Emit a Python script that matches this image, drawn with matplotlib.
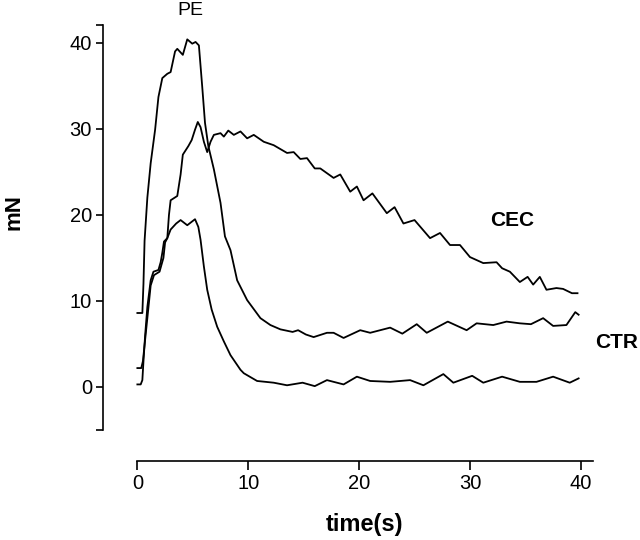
import matplotlib
matplotlib.use("Agg")
import matplotlib.pyplot as plt

plt.rcParams['font.family'] = ['Liberation Sans', 'DejaVu Sans']

# trace that peaks at ~40 mN and relaxes to ~7 mN
pe_t = [0, 0.45, 0.55, 0.65, 0.9, 1.2, 1.6, 1.9, 2.25, 2.7, 3.0, 3.4, 3.6, 4.1,
        4.5, 4.95, 5.25, 5.55, 5.85, 6.1, 6.4, 6.9, 7.5, 7.9, 8.4, 9.0, 9.9,
        11.1, 12.0, 12.9, 14.0, 14.5, 15.2, 15.9, 17.1, 17.7, 18.6, 20.1, 21.0,
        22.8, 23.9, 25.2, 26.1, 28.0, 29.7, 30.6, 32.1, 33.3, 34.5, 35.5, 36.6,
        37.5, 38.7, 39.5, 39.8]
pe_f = [8.6, 8.6, 12.0, 17.0, 22.0, 26.0, 29.9, 33.7, 35.9, 36.4, 36.6, 39.0,
        39.3, 38.6, 40.4, 39.9, 40.1, 39.7, 34.9, 30.7, 28.0, 25.3, 21.4, 17.5,
        15.9, 12.4, 10.1, 8.0, 7.2, 6.7, 6.4, 6.6, 6.1, 5.8, 6.3, 6.3, 5.7, 6.6,
        6.3, 6.9, 6.2, 7.3, 6.3, 7.6, 6.6, 7.4, 7.2, 7.6, 7.4, 7.3, 8.0, 7.1,
        7.2, 8.7, 8.4]

# CEC trace, sustained plateau then slow decay
cec_t = [0, 0.35, 0.5, 0.7, 0.9, 1.2, 1.5, 2.0, 2.35, 2.5, 2.7, 2.85, 3.0, 3.6,
         3.9, 4.1, 4.6, 4.9, 5.2, 5.45, 5.7, 6.0, 6.3, 6.6, 6.9, 7.5, 7.8, 8.2,
         8.7, 9.3, 9.9, 10.5, 11.4, 12.3, 13.5, 14.1, 14.7, 15.3, 16.0, 16.5,
         17.7, 18.3, 19.2, 19.8, 20.4, 21.2, 22.5, 23.2, 24.0, 25.0, 26.4, 27.3,
         28.2, 29.1, 30.0, 31.2, 32.4, 32.9, 33.6, 34.5, 35.2, 35.7, 36.3, 36.9,
         37.8, 38.4, 39.2, 39.7]
cec_f = [2.2, 2.2, 3.0, 5.5, 8.0, 11.8, 13.0, 13.4, 15.0, 16.8, 17.3, 20.0,
         21.7, 22.2, 24.7, 27.0, 28.0, 28.7, 29.9, 30.8, 30.2, 28.5, 27.3, 28.5,
         29.3, 29.5, 29.1, 29.8, 29.3, 29.7, 28.9, 29.3, 28.5, 28.1, 27.2, 27.3,
         26.5, 26.6, 25.4, 25.4, 24.3, 24.7, 22.7, 23.3, 21.7, 22.5, 20.2, 20.9,
         19.0, 19.4, 17.3, 17.9, 16.5, 16.5, 15.1, 14.4, 14.5, 13.8, 13.4, 12.2,
         12.8, 11.9, 12.8, 11.3, 11.5, 11.4, 10.9, 10.9]

# CTR trace, small transient back to ~0
ctr_t = [0, 0.3, 0.45, 0.55, 0.7, 0.9, 1.2, 1.45, 1.9, 2.1, 2.25, 2.4, 2.7, 3.0,
         3.5, 3.9, 4.5, 4.9, 5.2, 5.5, 5.7, 6.0, 6.3, 6.7, 7.2, 7.8, 8.4, 9.3,
         9.6, 10.8, 12.3, 13.5, 14.9, 16.0, 17.1, 17.7, 18.6, 19.8, 21.0, 22.8,
         24.6, 25.8, 27.6, 28.5, 30.2, 31.2, 32.9, 34.5, 36.0, 37.5, 39.0, 39.8]
ctr_f = [0.3, 0.3, 0.8, 3.0, 6.0, 9.3, 12.4, 13.4, 13.6, 14.5, 15.6, 16.9,
         17.3, 18.3, 19.0, 19.4, 18.8, 19.2, 19.5, 18.6, 17.1, 14.0, 11.3, 9.0,
         7.0, 5.3, 3.7, 2.0, 1.6, 0.7, 0.5, 0.2, 0.5, 0.1, 0.8, 0.6, 0.3, 1.2,
         0.7, 0.6, 0.8, 0.2, 1.5, 0.5, 1.3, 0.5, 1.2, 0.6, 0.6, 1.2, 0.5, 1.0]

x_ticks = [0, 10, 20, 30, 40]
y_ticks = [-5, 0, 10, 20, 30, 40, 42.1]
y_labels = ['', '0', '10', '20', '30', '40', '']

fig = plt.figure(figsize=(6.4, 5.4), dpi=100)
ax = fig.add_axes([103 / 640, 79 / 540, 500 / 640, 444 / 540])

for t, f in [(pe_t, pe_f), (cec_t, cec_f), (ctr_t, ctr_f)]:
    ax.plot(t, f, color='black', lw=1.3)

ax.set_xlim(-3.1, 42)
ax.set_ylim(-8.6, 43)
ax.spines['top'].set_visible(False)
ax.spines['right'].set_visible(False)
ax.spines['left'].set_bounds(-5, 42.1)
ax.spines['bottom'].set_bounds(0, 41.1)
for s in ['left', 'bottom']:
    ax.spines[s].set_linewidth(1.2)

ax.set_xticks(x_ticks)
ax.set_yticks(y_ticks)
ax.set_yticklabels(y_labels)
ax.tick_params(axis='both', labelsize=14.5, width=1.2, color='black')
ax.tick_params(axis='x', length=6.5, pad=3)
ax.tick_params(axis='y', length=5, pad=3)

ax.text(4.8, 43.8, 'PE', fontsize=14, ha='center', va='center', clip_on=False)
ax.text(33.8, 19.3, 'CEC', fontsize=15, fontweight='bold', ha='center', va='center')
ax.text(41.3, 5.2, 'CTR', fontsize=15, fontweight='bold', ha='left', va='center',
        clip_on=False)

fig.text(14 / 640, 1 - 212 / 540, 'mN', rotation=90, fontsize=16,
         fontweight='bold', ha='center', va='center')
fig.text(364 / 640, 1 - 525 / 540, 'time(s)', fontsize=17,
         fontweight='bold', ha='center', va='center')

fig.savefig('out.png', dpi=100)
